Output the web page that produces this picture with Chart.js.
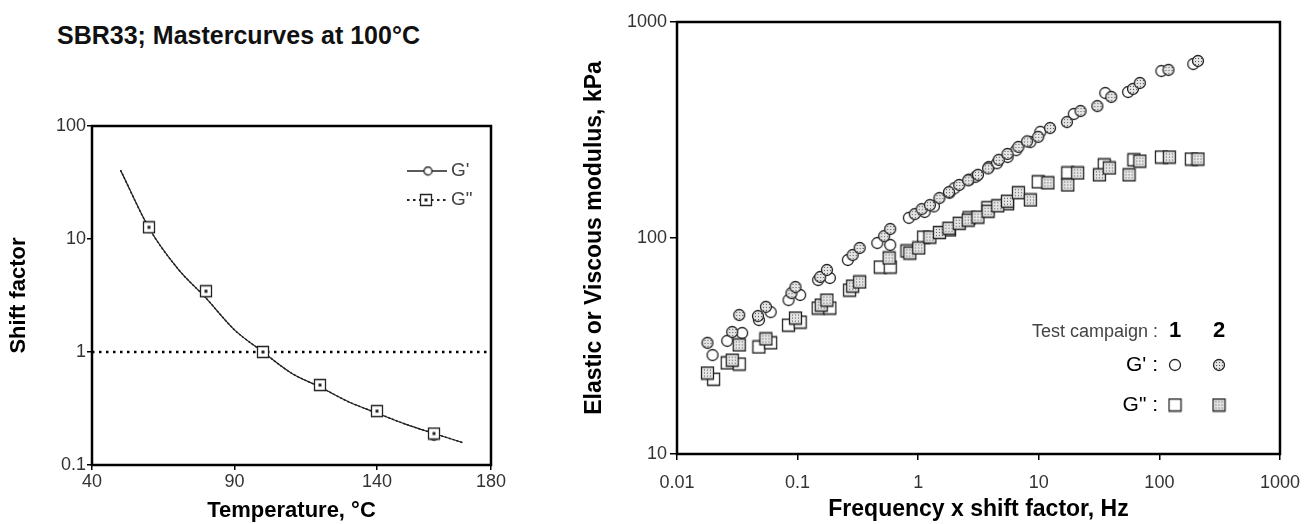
<!DOCTYPE html>
<html>
<head>
<meta charset="utf-8">
<script src="https://cdn.jsdelivr.net/npm/chart.js@4.4.0/dist/chart.umd.min.js"></script>
<style>
body { margin: 0; background: #fff; width: 1312px; height: 524px; overflow: hidden; position: relative; font-family: "Liberation Sans", Arial, sans-serif; }
#title { position: absolute; left: 57px; top: 20px; font-size: 25px; line-height: 30px; font-weight: bold; color: #111; white-space: nowrap; }
#left { position: absolute; left: 0; top: 100px; }
#right { position: absolute; left: 560px; top: 0; }
</style>
</head>
<body>
<div id="title">SBR33; Mastercurves at 100°C</div>
<canvas id="left" width="530" height="424"></canvas>
<canvas id="right" width="752" height="524"></canvas>
<script>
// left panel: shift factor vs temperature
var tempCurve = [50, 60, 70, 80, 90, 100, 110, 120, 130, 140, 150, 160, 170];
var shiftCurveG1 = [40.7, 12.5, 5.5, 3.0, 1.57, 1.0, 0.65, 0.49, 0.363, 0.288, 0.23, 0.19, 0.158];
var shiftCurveG2 = [40.7, 12.5, 5.5, 3.0, 1.57, 1.0, 0.65, 0.49, 0.363, 0.288, 0.23, 0.19, 0.158];
var tempMeasured = [60, 80, 100, 120, 140, 160];
var shiftG1 = [12.5, 3.35, 1.0, 0.51, 0.30, 0.18];
var shiftG2 = [12.7, 3.45, 1.0, 0.51, 0.30, 0.19];
var refTemp = [40, 180];
var refShift = [1, 1];
var tempTicks = [40, 90, 140, 180];
var shiftTicks = [0.1, 1, 10, 100];

// right panel: moduli vs reduced frequency (campaign 1 = open, campaign 2 = dotted)
var freqG1c2 = [0.0179, 0.0287, 0.0328, 0.0469, 0.0546, 0.089, 0.096, 0.154, 0.175, 0.286, 0.327, 0.522, 0.586, 0.937, 1.07, 1.25, 1.50, 1.8, 2.19, 2.6, 3.13, 3.8, 4.66, 5.5, 6.78, 8.0, 9.89, 12.4, 17.1, 22.2, 30.6, 39.9, 60.4, 68.9, 119, 209];
var modG1c2 = [32.7, 36.7, 44.0, 43.5, 48.0, 55.6, 59.3, 66.0, 71.1, 83.4, 89.9, 102, 110, 129, 136, 142, 153, 163, 176, 185, 196, 210, 230, 245, 264, 280, 294, 323, 344, 387, 408, 450, 490, 522, 600, 660];
var freqG1c1 = [0.0197, 0.0261, 0.0347, 0.0478, 0.0598, 0.0841, 0.105, 0.148, 0.185, 0.261, 0.458, 0.586, 0.837, 1.13, 1.35, 1.82, 2.0, 2.64, 3.0, 3.85, 4.5, 5.51, 6.5, 8.51, 10.3, 19.5, 35.6, 55.0, 104, 191];
var modG1c1 = [28.7, 33.4, 36.3, 41.7, 45.4, 51.6, 54.5, 63.9, 65.3, 79.1, 94.8, 92.9, 124, 132, 140, 162, 170, 186, 192, 213, 222, 237, 255, 278, 310, 375, 469, 474, 593, 639];
var freqG2c2 = [0.0179, 0.0287, 0.0328, 0.0546, 0.096, 0.157, 0.175, 0.286, 0.327, 0.574, 0.853, 1.01, 1.25, 1.50, 1.8, 2.19, 2.6, 3.13, 3.8, 4.57, 5.5, 6.78, 8.51, 11.9, 17.4, 21.0, 31.8, 38.4, 56.0, 68.9, 121, 209];
var modG2c2 = [23.7, 27.2, 32.0, 34.1, 42.6, 48.9, 51.6, 59.9, 62.6, 80.8, 85.2, 89.9, 101, 106, 111, 117, 121, 125, 133, 141, 148, 162, 150, 180, 176, 200, 196, 211, 196, 227, 237, 232];
var freqG2c1 = [0.0201, 0.0261, 0.0328, 0.0478, 0.0598, 0.0841, 0.105, 0.148, 0.185, 0.270, 0.485, 0.586, 0.807, 1.11, 1.82, 2.64, 3.78, 5.51, 9.89, 17.4, 34.9, 61.5, 104, 184];
var modG2c1 = [22.2, 26.4, 26.1, 31.3, 32.7, 39.5, 40.8, 47.4, 47.4, 57.4, 73.4, 73.4, 87.1, 101, 109, 124, 138, 144, 182, 200, 218, 230, 237, 232];
var freqTicks = [0.01, 0.1, 1, 10, 100, 1000];
var modTicks = [10, 100, 1000];

var fontName = '"Liberation Sans", Arial, sans-serif';

function pts(xs, ys) {
    return xs.map(function (x, i) { return {x: x, y: ys[i]}; });
}

function dotFill(g) {
    var p = document.createElement('canvas');
    p.width = 3; p.height = 3;
    var q = p.getContext('2d');
    q.fillStyle = '#e4e4e4'; q.fillRect(0, 0, 3, 3);
    q.fillStyle = '#555'; q.fillRect(1, 1, 1, 1);
    return g.createPattern(p, 'repeat');
}

function marker(shape, size, dotted, centreDot) {
    var cv = document.createElement('canvas');
    cv.width = size + 3; cv.height = size + 3;
    var g = cv.getContext('2d');
    var c = cv.width / 2;
    g.fillStyle = dotted ? dotFill(g) : '#fff';
    g.strokeStyle = '#222';
    g.lineWidth = 1.3;
    g.beginPath();
    if (shape == 'circle') g.arc(c, c, size / 2, 0, Math.PI * 2);
    else g.rect(c - size / 2, c - size / 2, size, size);
    g.fill();
    g.stroke();
    if (centreDot) { g.fillStyle = '#222'; g.fillRect(c - 1.5, c - 1.5, 3, 3); }
    return cv;
}

var mkOpenCircle = marker('circle', 11, false);
var mkDotCircle = marker('circle', 11, true);
var mkOpenSquare = marker('rect', 12, false);
var mkDotSquare = marker('rect', 12, true);
var mkSmallCircle = marker('circle', 8, false);
var mkSmallSquare = marker('rect', 11, false, true);

var framePlugin = {
    id: 'frame',
    afterDatasetsDraw: function (chart) {
        var a = chart.chartArea, c = chart.ctx;
        c.save();
        c.strokeStyle = '#000';
        c.lineWidth = 2.5;
        c.strokeRect(a.left, a.top, a.right - a.left, a.bottom - a.top);
        c.restore();
    }
};

var leftLegend = {
    id: 'leftLegend',
    afterDraw: function (chart) {
        var c = chart.ctx;
        c.save();
        c.strokeStyle = '#222';
        c.lineWidth = 1.3;
        c.beginPath(); c.moveTo(407, 71); c.lineTo(447, 71); c.stroke();
        c.drawImage(mkSmallCircle, 428 - mkSmallCircle.width / 2, 71 - mkSmallCircle.height / 2);
        c.setLineDash([2.5, 3.5]);
        c.lineWidth = 2;
        c.beginPath(); c.moveTo(407, 100); c.lineTo(447, 100); c.stroke();
        c.setLineDash([]);
        c.drawImage(mkSmallSquare, 426 - mkSmallSquare.width / 2, 100 - mkSmallSquare.height / 2);
        c.fillStyle = '#444';
        c.font = '19px ' + fontName;
        c.textBaseline = 'middle';
        c.textAlign = 'left';
        c.fillText("G'", 451, 71);
        c.fillText('G"', 451, 100);
        c.restore();
    }
};

var rightLegend = {
    id: 'rightLegend',
    afterDraw: function (chart) {
        var c = chart.ctx;
        var x1 = 615, x2 = 659;
        c.save();
        c.textBaseline = 'middle';
        c.textAlign = 'right';
        c.fillStyle = '#444';
        c.font = '18px ' + fontName;
        c.fillText('Test campaign :', 598, 332);
        c.fillStyle = '#000';
        c.font = '21px ' + fontName;
        c.fillText("G' :", 598, 365);
        c.fillText('G" :', 598, 405);
        c.textAlign = 'center';
        c.font = 'bold 22px ' + fontName;
        c.fillText('1', x1, 331);
        c.fillText('2', x2, 331);
        c.drawImage(mkOpenCircle, x1 - mkOpenCircle.width / 2, 365 - mkOpenCircle.height / 2);
        c.drawImage(mkDotCircle, x2 - mkDotCircle.width / 2, 365 - mkDotCircle.height / 2);
        c.drawImage(mkOpenSquare, x1 - mkOpenSquare.width / 2, 405 - mkOpenSquare.height / 2);
        c.drawImage(mkDotSquare, x2 - mkDotSquare.width / 2, 405 - mkDotSquare.height / 2);
        c.restore();
    }
};

function tickGrid(len) {
    return {drawOnChartArea: false, drawTicks: true, tickLength: len, color: '#000', lineWidth: 1.5};
}

new Chart(document.getElementById('left').getContext('2d'), {
    type: 'line',
    data: {
        datasets: [
            {data: pts(tempMeasured, shiftG2), showLine: false, pointStyle: mkSmallSquare, pointRadius: 5},
            {data: pts(tempMeasured, shiftG1), showLine: false, pointStyle: mkSmallCircle, pointRadius: 5},
            {data: pts(tempCurve, shiftCurveG2), borderColor: '#222', borderWidth: 1.5, borderDash: [2, 2],
                pointRadius: 0, cubicInterpolationMode: 'monotone'},
            {data: pts(tempCurve, shiftCurveG1), borderColor: '#222', borderWidth: 1.2,
                pointRadius: 0, cubicInterpolationMode: 'monotone'},
            {data: pts(refTemp, refShift), borderColor: '#000', borderWidth: 2.5, borderDash: [2.5, 4.5], pointRadius: 0}
        ]
    },
    options: {
        responsive: false,
        animation: false,
        layout: {padding: {top: 26, right: 39, left: 0, bottom: 0}},
        plugins: {legend: {display: false}, tooltip: {enabled: false}},
        scales: {
            x: {
                type: 'linear', min: 40, max: 180,
                afterBuildTicks: function (s) { s.ticks = tempTicks.map(function (v) { return {value: v}; }); },
                afterFit: function (s) { s.height = 59; },
                grid: tickGrid(5),
                border: {display: false},
                ticks: {color: '#333', padding: 1, maxRotation: 0, font: {family: fontName, size: 18}},
                title: {display: true, text: 'Temperature, °C', color: '#000', padding: {top: 0, bottom: 0},
                    font: {family: fontName, size: 22, weight: 'bold'}}
            },
            y: {
                type: 'logarithmic', min: 0.1, max: 100,
                afterBuildTicks: function (s) { s.ticks = shiftTicks.map(function (v) { return {value: v}; }); },
                afterFit: function (s) { s.width = 92; },
                grid: tickGrid(5),
                border: {display: false},
                ticks: {color: '#333', padding: 1, font: {family: fontName, size: 18},
                    callback: function (v) { return String(v); }},
                title: {display: true, text: 'Shift factor', color: '#000', padding: {top: 6, bottom: 0},
                    font: {family: fontName, size: 22, weight: 'bold'}}
            }
        }
    },
    plugins: [framePlugin, leftLegend]
});

new Chart(document.getElementById('right').getContext('2d'), {
    type: 'scatter',
    data: {
        datasets: [
            {data: pts(freqG1c2, modG1c2), pointStyle: mkDotCircle, pointRadius: 6},
            {data: pts(freqG2c2, modG2c2), pointStyle: mkDotSquare, pointRadius: 6},
            {data: pts(freqG1c1, modG1c1), pointStyle: mkOpenCircle, pointRadius: 6},
            {data: pts(freqG2c1, modG2c1), pointStyle: mkOpenSquare, pointRadius: 6}
        ]
    },
    options: {
        responsive: false,
        animation: false,
        layout: {padding: {top: 22, right: 24, left: 0, bottom: 0}},
        plugins: {legend: {display: false}, tooltip: {enabled: false}},
        scales: {
            x: {
                type: 'logarithmic', min: 0.01, max: 1000,
                afterBuildTicks: function (s) { s.ticks = freqTicks.map(function (v) { return {value: v}; }); },
                afterFit: function (s) { s.height = 70; },
                grid: tickGrid(6),
                border: {display: false},
                ticks: {color: '#333', padding: 12, maxRotation: 0, font: {family: fontName, size: 18},
                    callback: function (v) { return String(v); }},
                title: {display: true, text: 'Frequency x shift factor, Hz', color: '#000', padding: {top: 0, bottom: 1},
                    font: {family: fontName, size: 23, weight: 'bold'}}
            },
            y: {
                type: 'logarithmic', min: 10, max: 1000,
                afterBuildTicks: function (s) { s.ticks = modTicks.map(function (v) { return {value: v}; }); },
                afterFit: function (s) { s.width = 117; },
                grid: tickGrid(7),
                border: {display: false},
                ticks: {color: '#333', padding: 3, font: {family: fontName, size: 18},
                    callback: function (v) { return String(v); }},
                title: {display: true, text: 'Elastic or Viscous modulus, kPa', color: '#000', padding: {top: 21, bottom: 0},
                    font: {family: fontName, size: 23, weight: 'bold'}}
            }
        }
    },
    plugins: [framePlugin, rightLegend]
});
</script>
</body>
</html>
